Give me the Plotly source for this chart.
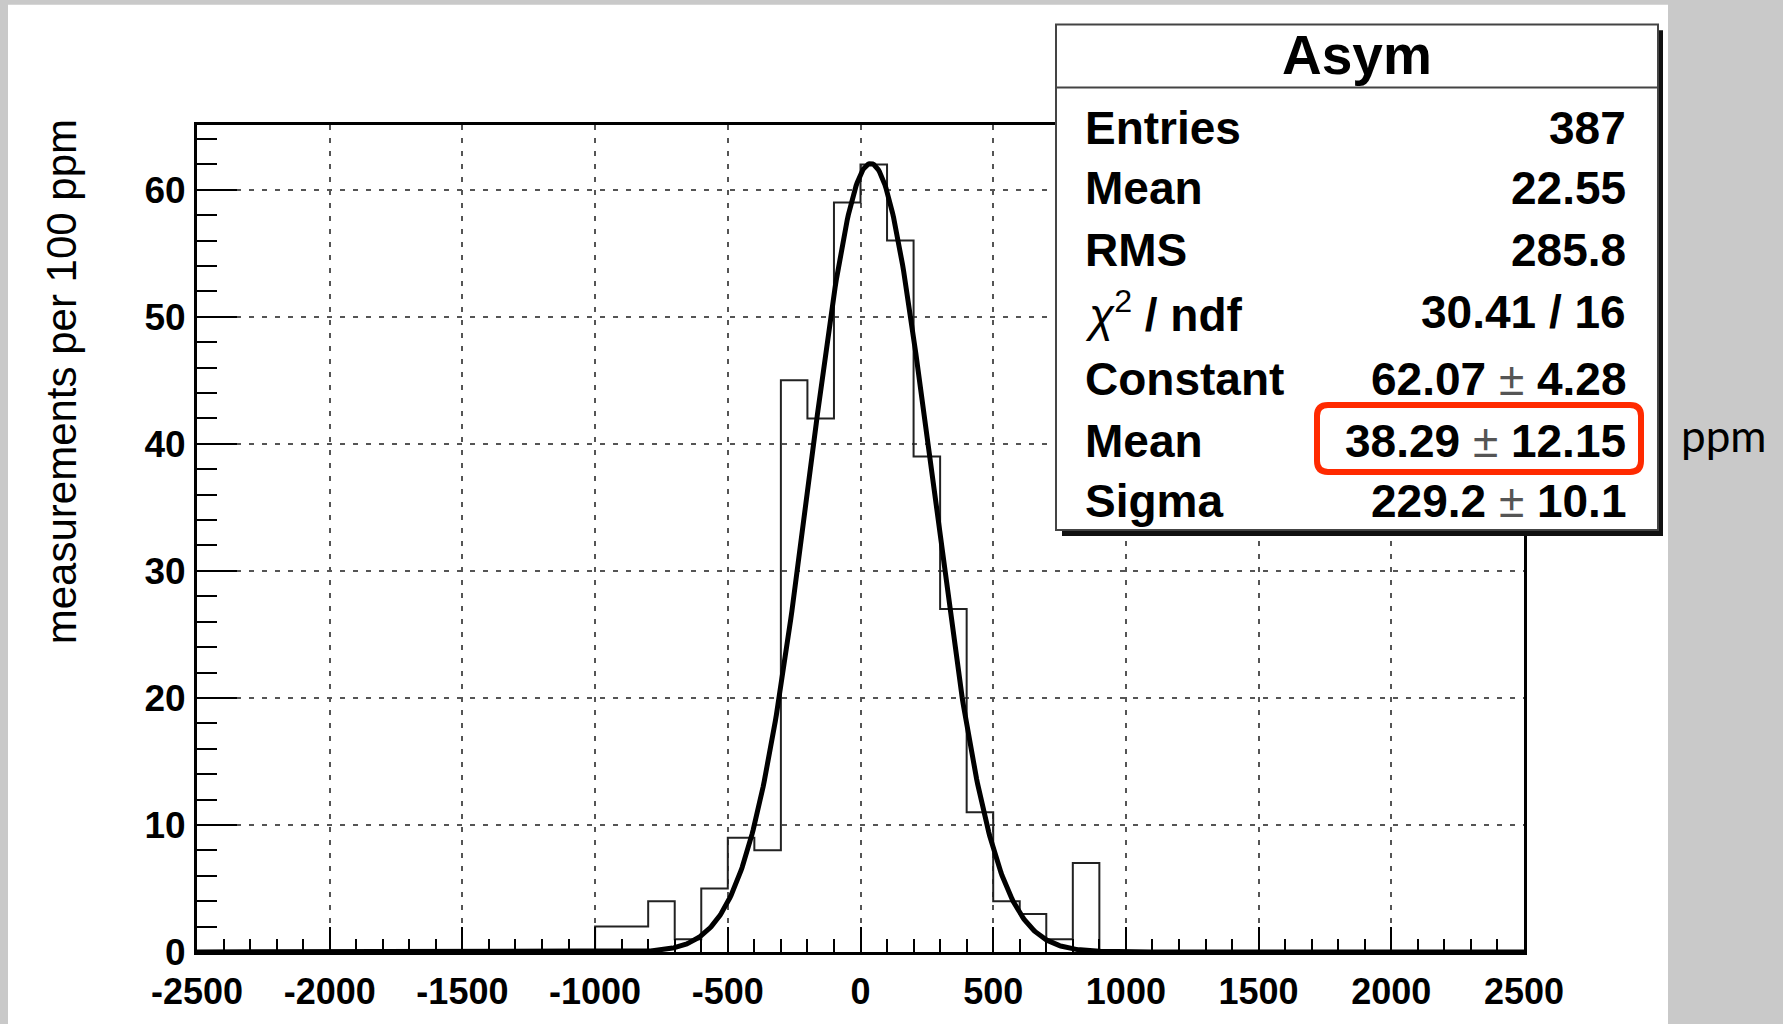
import numpy as np
import plotly.graph_objects as go

# ---------------- data ----------------
bin_left = [-1000, -900, -800, -700, -600, -500, -400, -300, -200, -100,
            0, 100, 200, 300, 400, 500, 600, 700, 800]
counts = [2, 2, 4, 1, 5, 9, 8, 45, 42, 59, 62, 56, 39, 27, 11, 4, 3, 1, 7]
bin_width = 100

fit_constant = 62.07
fit_mean = 38.29
fit_sigma = 229.2

x_tick_vals = [-2500, -2000, -1500, -1000, -500, 0, 500, 1000, 1500, 2000, 2500]
x_tick_labels = ["-2500", "-2000", "-1500", "-1000", "-500", "0", "500", "1000", "1500", "2000", "2500"]
y_tick_vals = [0, 10, 20, 30, 40, 50, 60]
y_tick_labels = ["0", "10", "20", "30", "40", "50", "60"]

stats_title = "Asym"
stat_labels = ["Entries", "Mean", "RMS",
               "<span style='font-weight:normal'><i>χ</i></span><sup><span style='font-weight:normal'>2</span></sup> / ndf",
               "Constant", "Mean", "Sigma"]
PM = "<span style='font-weight:normal;color:#555'>±</span>"
stat_values = ["387", "22.55", "285.8", "30.41 / 16",
               "62.07 " + PM + " 4.28", "38.29 " + PM + " 12.15", "229.2 " + PM + " 10.1"]
y_title = "measurements per 100 ppm"
unit_text = "ppm"

# ---------------- geometry ----------------
W, H = 1783, 1024
L, R, T, B = 197, 1524, 125, 964
FONT = "Liberation Sans, Arial, Helvetica, sans-serif"


def P(x, y):
    return (x - L) / (R - L), (B - y) / (B - T)


# histogram step outline from bins
xs = [bin_left[0]]
ys = [0]
for l, c in zip(bin_left, counts):
    xs += [l, l + bin_width]
    ys += [c, c]
xs.append(bin_left[-1] + bin_width)
ys.append(0)

# fit function
gx = np.linspace(-2500, 2500, 1201)
gy = fit_constant * np.exp(-0.5 * ((gx - fit_mean) / fit_sigma) ** 2)

fig = go.Figure()
fig.add_trace(go.Scatter(x=xs, y=ys, mode="lines", line=dict(color="#222", width=2),
                         hoverinfo="skip"))
fig.add_trace(go.Scatter(x=gx, y=gy, mode="lines", line=dict(color="black", width=5),
                         hoverinfo="skip"))

shapes = []


def rect(x0, y0, x1, y1, **kw):
    a = P(x0, y0)
    b = P(x1, y1)
    d = dict(type="rect", xref="paper", yref="paper", x0=a[0], y0=a[1], x1=b[0], y1=b[1],
             layer="above")
    d.update(kw)
    return d


gray = "#c9c9c9"
shapes.append(rect(1668, -20, 1800, 1100, fillcolor=gray, line=dict(width=0), layer="below"))
shapes.append(rect(-20, -20, 8, 1100, fillcolor=gray, line=dict(width=0), layer="below"))
shapes.append(rect(-20, -20, 1668, 3, fillcolor=gray, line=dict(width=0), layer="below"))

# stats box shadow + box
shapes.append(rect(1062, 29, 1663, 542, fillcolor="#111", line=dict(width=0)))
shapes.append(rect(1056, 23, 1658, 536, fillcolor="white", line=dict(color="#444", width=2)))
a = P(1056, 87)
b = P(1658, 87)
shapes.append(dict(type="line", xref="paper", yref="paper", x0=a[0], y0=a[1], x1=b[0], y1=b[1],
                   line=dict(color="#444", width=2), layer="above"))

# red rounded highlight
x0, y0, x1, y1, r = 1317, 409, 1641, 477, 11


def pp(x, y):
    q = P(x, y)
    return f"{q[0]:.6f},{q[1]:.6f}"


path = (f"M {pp(x0 + r, y0)} L {pp(x1 - r, y0)} Q {pp(x1, y0)} {pp(x1, y0 + r)} "
        f"L {pp(x1, y1 - r)} Q {pp(x1, y1)} {pp(x1 - r, y1)} "
        f"L {pp(x0 + r, y1)} Q {pp(x0, y1)} {pp(x0, y1 - r)} "
        f"L {pp(x0, y0 + r)} Q {pp(x0, y0)} {pp(x0 + r, y0)} Z")
shapes.append(dict(type="path", xref="paper", yref="paper", path=path,
                   line=dict(color="#ff2a00", width=6), layer="above"))

annotations = []


def ann(text, x, y, xanchor="center", size=46, weight="bold", family=FONT, color="black", angle=0):
    q = P(x, y)
    annotations.append(dict(text=text, x=q[0], y=q[1], xref="paper", yref="paper",
                            xanchor=xanchor, yanchor="middle", showarrow=False,
                            textangle=angle,
                            font=dict(family=family, size=size, color=color, weight=weight)))


ann(stats_title, 1357, 54, size=55)
row_y = [128.5, 189, 252, 315, 383, 446, 506]
for lab, val, yy in zip(stat_labels, stat_values, row_y):
    ann(lab, 1083, yy, xanchor="left")
    ann(val, 1628, yy, xanchor="right")

ann(unit_text, 1724, 439, size=44, weight="normal", family="Lato, Liberation Sans, sans-serif")
ann(y_title, 61, 386, size=42, weight="normal", angle=-90)

grid_dash = "5px,8px"
fig.update_layout(
    width=W, height=H,
    margin=dict(l=L, r=W - R, t=T, b=H - B, pad=0),
    paper_bgcolor="white", plot_bgcolor="white",
    showlegend=False,
    shapes=shapes, annotations=annotations,
    xaxis=dict(range=[-2500, 2500], tickmode="array", tickvals=x_tick_vals, ticktext=x_tick_labels,
               ticks="inside", ticklen=25, tickwidth=2, tickcolor="black",
               showline=True, linewidth=3, linecolor="black", mirror=True,
               showgrid=True, gridcolor="#555", gridwidth=1.5, griddash=grid_dash,
               zeroline=False, ticklabelstandoff=6,
               minor=dict(dtick=100, tick0=-2500, ticks="inside", ticklen=13, tickwidth=2,
                          tickcolor="black", showgrid=False),
               tickfont=dict(family=FONT, size=36, color="black", weight="bold")),
    yaxis=dict(range=[0, 65.1], tickmode="array", tickvals=y_tick_vals, ticktext=y_tick_labels,
               ticks="inside", ticklen=40, tickwidth=2, tickcolor="black",
               showline=True, linewidth=3, linecolor="black", mirror=True,
               showgrid=True, gridcolor="#555", gridwidth=1.5, griddash=grid_dash,
               zeroline=False, ticklabelstandoff=1,
               minor=dict(dtick=2, tick0=0, ticks="inside", ticklen=20, tickwidth=2,
                          tickcolor="black", showgrid=False),
               tickfont=dict(family=FONT, size=37, color="black", weight="bold")),
)

fig.write_html("out.html")
